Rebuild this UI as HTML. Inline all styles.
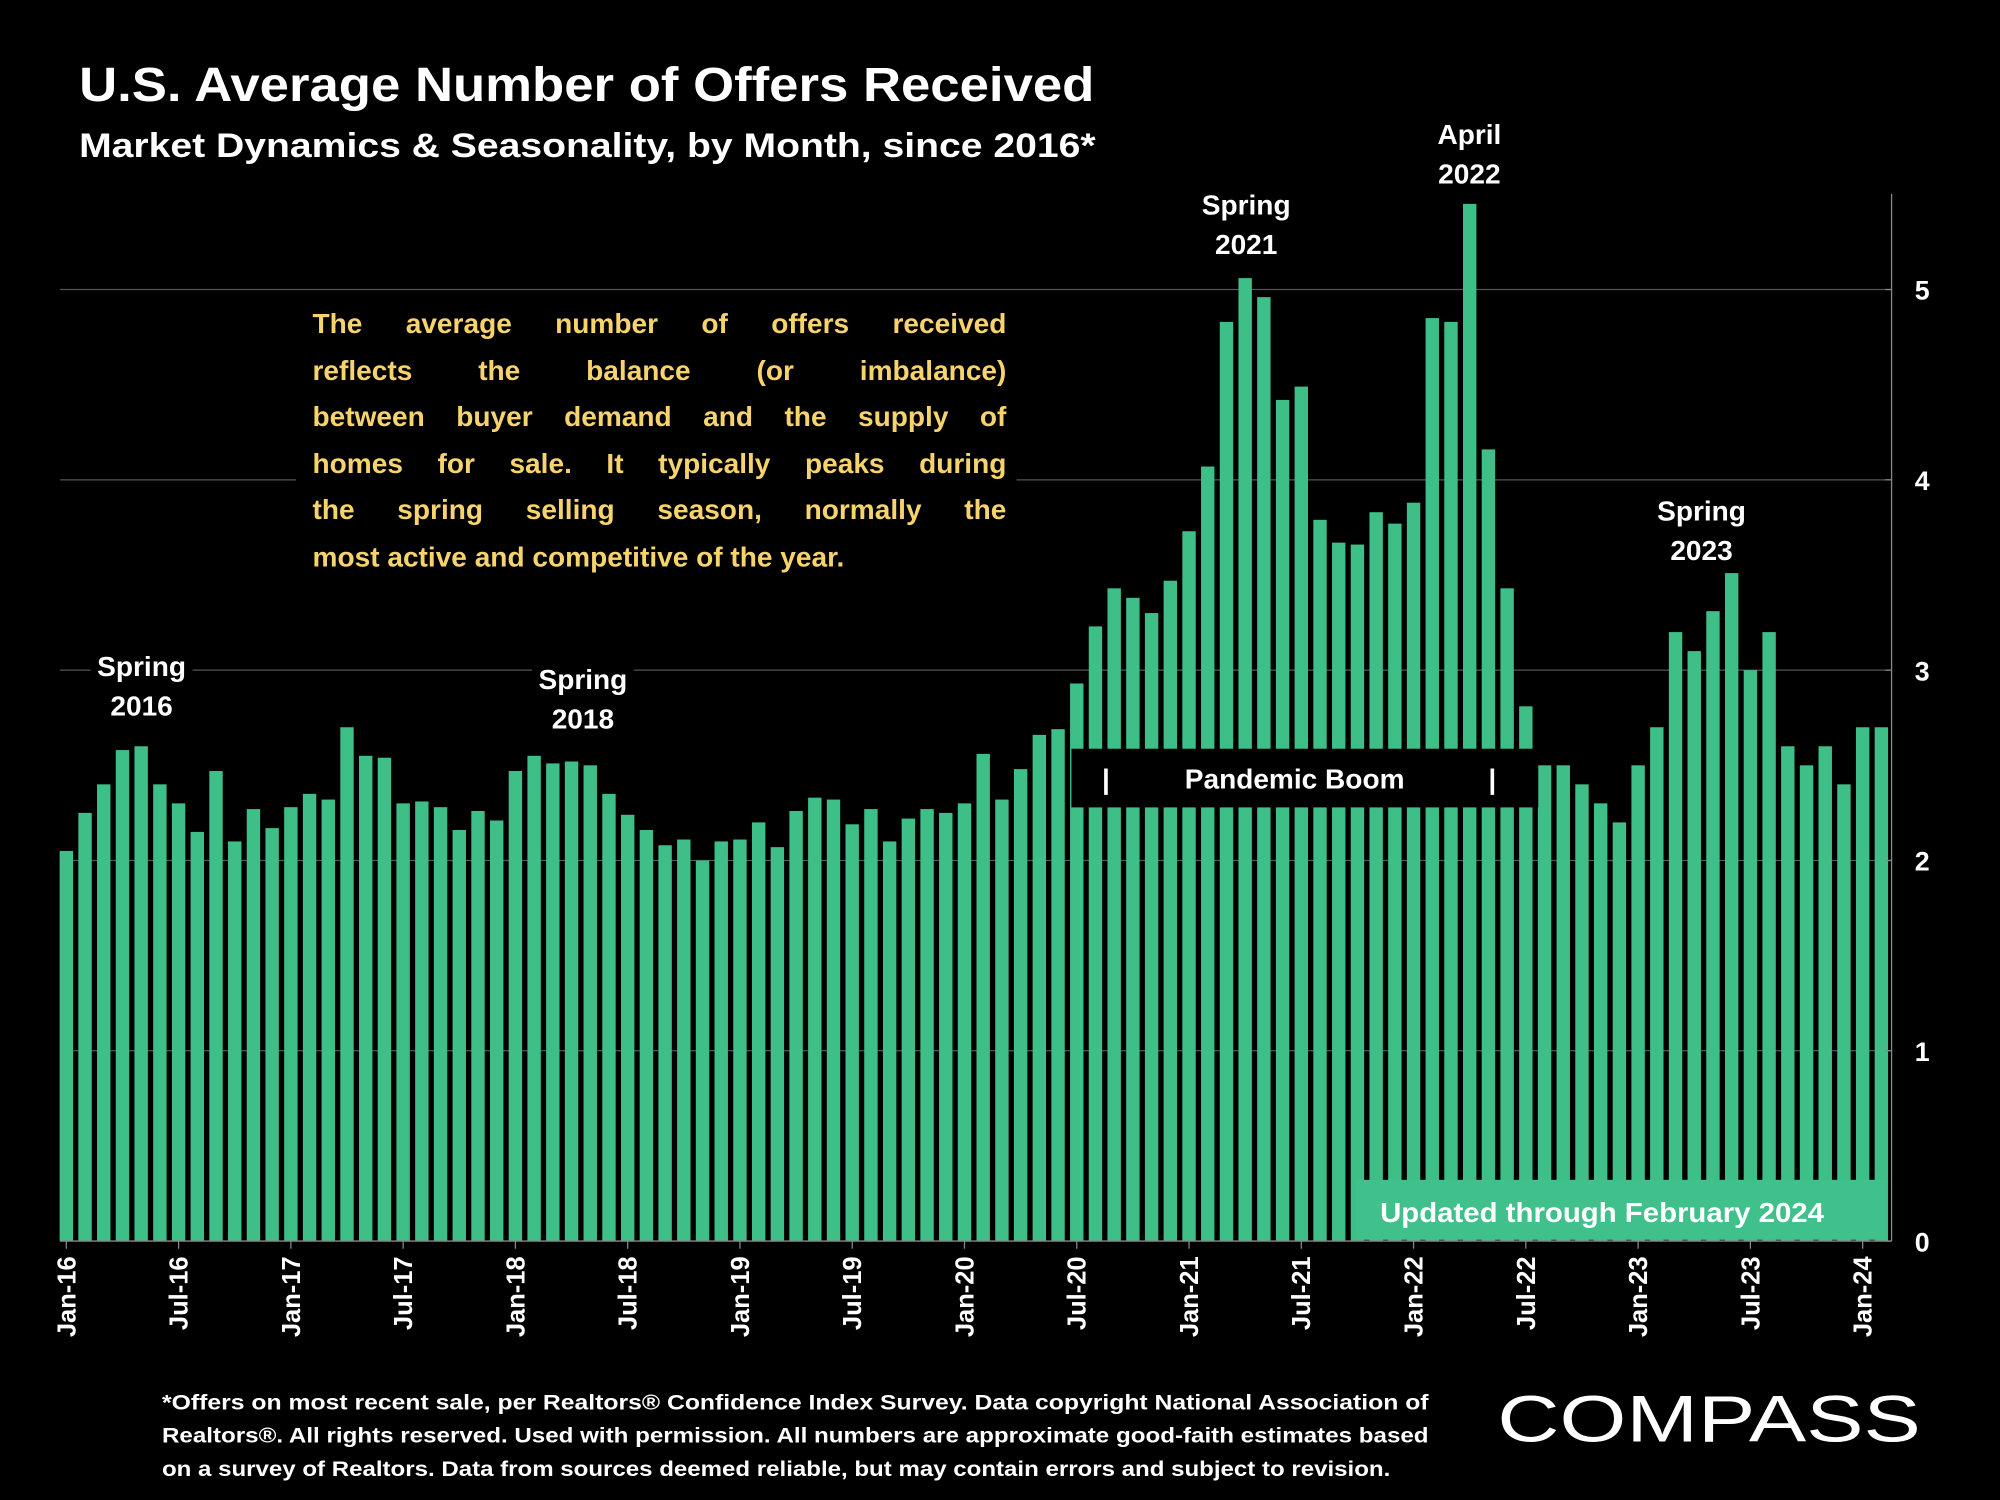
<!DOCTYPE html>
<html><head><meta charset="utf-8"><style>
html,body{margin:0;padding:0;background:#000;width:2000px;height:1500px;overflow:hidden}
#wrap{position:absolute;left:0;top:0;width:1568px;height:1176px;transform:scale(1.27551);transform-origin:0 0;font-family:"Liberation Sans",sans-serif;color:#fff}
#para{position:absolute;left:232px;top:236px;width:544px;padding:0 8px 0 13px;background:#000;color:#f6d36c;font-weight:bold;font-size:22px;line-height:36.6px}
#para div{text-align:justify;text-align-last:justify;white-space:nowrap}
#para div.last{text-align-last:left}
</style></head><body>
<div id="wrap">
<svg id="chart" width="1568" height="1176" style="position:absolute;left:0;top:0">
<text x="62" y="79" font-size="38" font-weight="bold" fill="#fff" textLength="796" lengthAdjust="spacingAndGlyphs">U.S. Average Number of Offers Received</text>
<text x="62" y="123" font-size="27" font-weight="bold" fill="#fff" textLength="797" lengthAdjust="spacingAndGlyphs">Market Dynamics &amp; Seasonality, by Month, since 2016*</text>
<g id="grid"></g><g id="bars"></g><g id="axis"></g><g id="ann"></g>
<text x="127" y="1105" font-size="17" font-weight="bold" fill="#fff" textLength="993" lengthAdjust="spacingAndGlyphs">*Offers on most recent sale, per Realtors® Confidence Index Survey. Data copyright National Association of</text>
<text x="127" y="1131" font-size="17" font-weight="bold" fill="#fff" textLength="993" lengthAdjust="spacingAndGlyphs">Realtors®. All rights reserved. Used with permission. All numbers are approximate good-faith estimates based</text>
<text x="127" y="1157" font-size="17" font-weight="bold" fill="#fff" textLength="963" lengthAdjust="spacingAndGlyphs">on a survey of Realtors. Data from sources deemed reliable, but may contain errors and subject to revision.</text>
<text x="1174" y="1130" font-size="52" font-weight="normal" fill="#fff" textLength="332" lengthAdjust="spacingAndGlyphs">COMPASS</text>
</svg>
<div id="para">
<div>The average number of offers received</div>
<div>reflects the balance (or imbalance)</div>
<div>between buyer demand and the supply of</div>
<div>homes for sale. It typically peaks during</div>
<div>the spring selling season, normally the</div>
<div class="last">most active and competitive of the year.</div>
</div>
</div>
<script>
const months = ["Jan","Feb","Mar","Apr","May","Jun","Jul","Aug","Sep","Oct","Nov","Dec"];
const startYear = 16;
const offers = [
2.05,2.25,2.4,2.58,2.6,2.4,2.3,2.15,2.47,2.1,2.27,2.17,
2.28,2.35,2.32,2.7,2.55,2.54,2.3,2.31,2.28,2.16,2.26,2.21,
2.47,2.55,2.51,2.52,2.5,2.35,2.24,2.16,2.08,2.11,2.0,2.1,
2.11,2.2,2.07,2.26,2.33,2.32,2.19,2.27,2.1,2.22,2.27,2.25,
2.3,2.56,2.32,2.48,2.66,2.69,2.93,3.23,3.43,3.38,3.3,3.47,
3.73,4.07,4.83,5.06,4.96,4.42,4.49,3.79,3.67,3.66,3.83,3.77,
3.88,4.85,4.83,5.45,4.16,3.43,2.81,2.5,2.5,2.4,2.3,2.2,
2.5,2.7,3.2,3.1,3.31,3.51,3.0,3.2,2.6,2.5,2.6,2.4,
2.7,2.7];
const yTicks = [0,1,2,3,4,5];
const NS="http://www.w3.org/2000/svg";
const x0=52, step=14.67, bw=10.5, yBase=973, perUnit=149.2;
const xS=i=>x0+i*step, yS=v=>yBase-v*perUnit;
function mk(tag,attrs,parent){const e=document.createElementNS(NS,tag);for(const k in attrs)e.setAttribute(k,attrs[k]);parent.appendChild(e);return e;}
const grid=document.getElementById('grid'),bars=document.getElementById('bars'),axis=document.getElementById('axis'),ann=document.getElementById('ann');
yTicks.forEach(t=>{
 if(t>0){const l=mk('line',{x1:47,x2:1483,y1:yS(t),y2:yS(t),stroke:'#555','stroke-width':1},grid);
 
 }
 const tk=mk('line',{x1:1478,x2:1483,y1:yS(t),y2:yS(t),stroke:'#888'},axis);
 const tx=mk('text',{x:1507,y:yS(t)+8,'font-size':21,'font-weight':'bold',fill:'#fff','text-anchor':'middle'},axis);
 tx.textContent=t;
 
 
});
mk('line',{x1:1483,x2:1483,y1:152,y2:yS(0),stroke:'#888'},axis);
mk('line',{x1:47,x2:1483,y1:yS(0),y2:yS(0),stroke:'#888'},axis);
offers.forEach((v,i)=>{
 const r=mk('rect',{x:xS(i)-bw/2,y:yS(v),width:bw,height:v*perUnit,fill:'#3fbf88'},bars);
 
 
 if(i%6===0){
  const lx=xS(i);
  mk('line',{x1:lx,x2:lx,y1:yS(0),y2:yS(0)+6,stroke:'#888'},axis);
  const t=mk('text',{x:0,y:0,'font-size':20,'font-weight':'bold',fill:'#fff','text-anchor':'end',transform:`translate(${lx+7},${yS(0)+12}) rotate(-90)`},axis);
  t.textContent=months[i%12]+'-'+(startYear+Math.floor(i/12));
  
  
 }
});
function label(lines,cx,y,name,bg){
 const g=mk('g',{},ann);
 
 
 if(bg)mk('rect',{x:cx-40,y:y-24,width:80,height:62,fill:'#000'},g);
 lines.forEach((s,k)=>{const t=mk('text',{x:cx,y:y+k*31,'font-size':22,'font-weight':'bold',fill:'#fff','text-anchor':'middle'},g);t.textContent=s;});
}
label(['Spring','2016'],111,530,'spring-2016-label',true);
label(['Spring','2018'],457,540,'spring-2018-label',true);
label(['Spring','2021'],977,168,'spring-2021-label',false);
label(['April','2022'],1152,113,'april-2022-label',false);
label(['Spring','2023'],1334,408,'spring-2023-label',false);
const pb=mk('g',{},ann);


mk('rect',{x:840,y:587,width:366,height:46,fill:'#000'},pb);
[['|',867],['Pandemic Boom',1015],['|',1170]].forEach(([s,x])=>{const t=mk('text',{x:x,y:618,'font-size':22,'font-weight':'bold',fill:'#fff','text-anchor':'middle'},pb);t.textContent=s;});
const ub=mk('g',{},ann);


mk('rect',{x:1063,y:925,width:416,height:47,fill:'#40c08a'},ub);
const ut=mk('text',{x:1256,y:958,'font-size':22,'font-weight':'bold',fill:'#fff','text-anchor':'middle',textLength:348,lengthAdjust:'spacingAndGlyphs'},ub);
ut.textContent='Updated through February 2024';
</script>
</body></html>
